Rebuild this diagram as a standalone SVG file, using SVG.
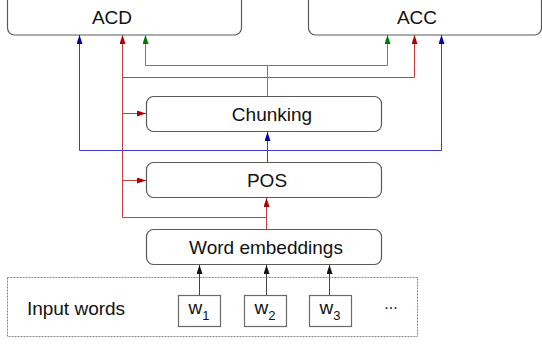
<svg xmlns="http://www.w3.org/2000/svg" width="542" height="345" viewBox="0 0 542 345">
<style>
.box{fill:#fff;stroke:#5a5a5a;stroke-width:1.2}
.wbox{fill:#fff;stroke:#6a6a6a;stroke-width:1.2}
.t{font-family:"Liberation Sans",Arial,sans-serif;font-size:19px;fill:#111;text-anchor:middle}
.sub{font-size:13px}
.b{stroke:#3c3ccc;fill:none;stroke-width:1}
.r{stroke:#cc3c3c;fill:none;stroke-width:1}
.g{stroke:#3ca03c;fill:none;stroke-width:1}
.k{stroke:#444;fill:none;stroke-width:1}
</style>
<defs>
<marker id="ab" markerUnits="userSpaceOnUse" markerWidth="9" markerHeight="6" refX="9" refY="3" orient="auto"><path d="M0,0 L9,3 L0,6 z" fill="#0000aa"/></marker>
<marker id="ar" markerUnits="userSpaceOnUse" markerWidth="9" markerHeight="6" refX="9" refY="3" orient="auto"><path d="M0,0 L9,3 L0,6 z" fill="#aa0000"/></marker>
<marker id="ag" markerUnits="userSpaceOnUse" markerWidth="9" markerHeight="6" refX="9" refY="3" orient="auto"><path d="M0,0 L9,3 L0,6 z" fill="#007700"/></marker>
<marker id="ak" markerUnits="userSpaceOnUse" markerWidth="9" markerHeight="6" refX="9" refY="3" orient="auto"><path d="M0,0 L9,3 L0,6 z" fill="#111"/></marker>
</defs>
<g id="input-words">
<rect x="7.5" y="277.5" width="410" height="59" fill="none" stroke="#888" stroke-width="1" stroke-dasharray="2,1"/>
<text class="t" x="76" y="315">Input words</text>
<text class="t" x="391" y="309" style="font-size:16px">...</text>
</g>
<g id="w1"><rect class="wbox" x="178.5" y="295.5" width="42" height="31"/><text class="t" x="199" y="314">w<tspan class="sub" dy="6">1</tspan></text></g>
<g id="w2"><rect class="wbox" x="244.5" y="295.5" width="42" height="31"/><text class="t" x="265" y="314">w<tspan class="sub" dy="6">2</tspan></text></g>
<g id="w3"><rect class="wbox" x="309.5" y="295.5" width="42" height="31"/><text class="t" x="330" y="314">w<tspan class="sub" dy="6">3</tspan></text></g>
<g id="acd"><rect class="box" x="7.5" y="-6" width="234" height="41" rx="7"/><text class="t" x="112" y="24">ACD</text></g>
<g id="acc"><rect class="box" x="308.5" y="-6" width="233" height="41" rx="7"/><text class="t" x="417" y="24">ACC</text></g>
<g id="chunking"><rect class="box" x="146.5" y="96.5" width="235" height="35" rx="7"/><text class="t" x="272" y="121">Chunking</text></g>
<g id="pos"><rect class="box" x="146.5" y="162.5" width="235" height="35" rx="7"/><text class="t" x="267" y="187">POS</text></g>
<g id="word-embeddings"><rect class="box" x="146.5" y="229.5" width="235" height="35" rx="7"/><text class="t" x="266" y="254">Word embeddings</text></g>
<g id="connectors">
<path class="k" d="M199.5,295 V265" marker-end="url(#ak)"/>
<path class="k" d="M266.5,295 V265" marker-end="url(#ak)"/>
<path class="k" d="M329.5,295 V265" marker-end="url(#ak)"/>
<path class="r" d="M266.5,229 V198" marker-end="url(#ar)"/>
<path class="r" d="M266.5,217.5 H122.5 V35" marker-end="url(#ar)"/>
<path class="r" d="M122.5,180.5 H146" marker-end="url(#ar)"/>
<path class="r" d="M122.5,113.5 H146" marker-end="url(#ar)"/>
<path class="r" d="M122.5,77.5 H414.5 V35" marker-end="url(#ar)"/>
<path class="b" d="M267.5,162 V132" marker-end="url(#ab)"/>
<path class="b" d="M267.5,150.5 H79.5 V35" marker-end="url(#ab)"/>
<path class="b" d="M267.5,150.5 H441.5 V35" marker-end="url(#ab)"/>
<path class="g" d="M267.5,96 V65.5 H145.5 V35" marker-end="url(#ag)"/>
<path class="g" d="M267.5,65.5 H387.5 V35" marker-end="url(#ag)"/>
</g>
</svg>
